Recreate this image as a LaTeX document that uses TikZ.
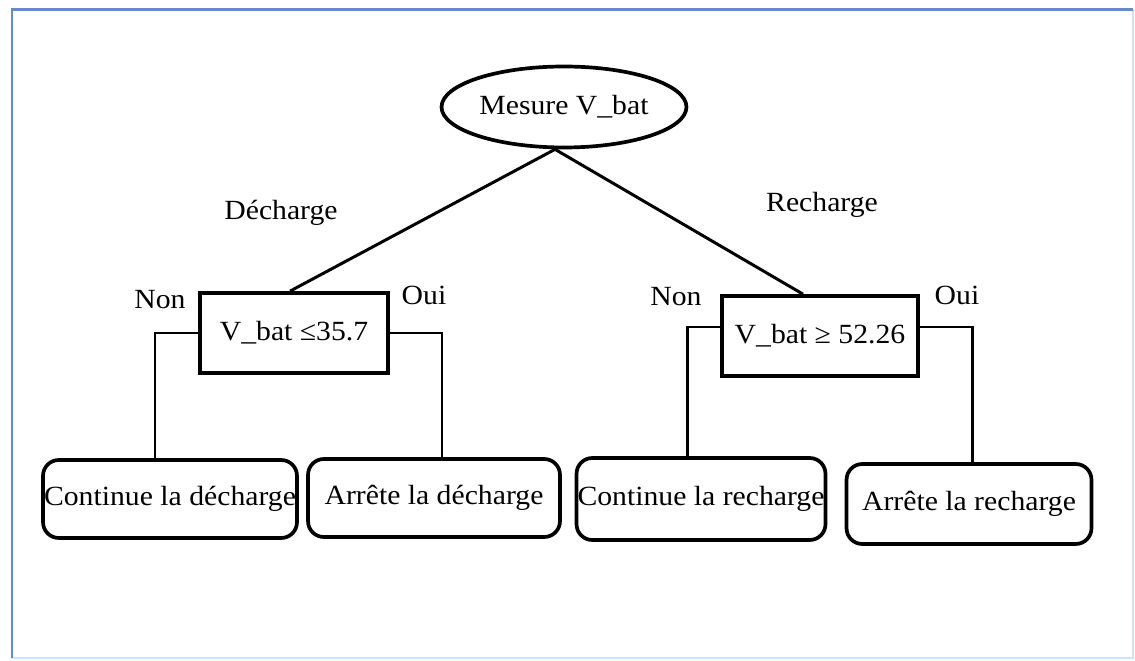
\documentclass[tikz,border=0pt]{standalone}
\usepackage{fontspec}
\setmainfont[FakeStretch=1.07]{Liberation Serif}
\usetikzlibrary{shapes.geometric}

\definecolor{framebl}{RGB}{98,140,202}
\definecolor{framelt}{RGB}{205,228,246}

\begin{document}
\begin{tikzpicture}[x=0.02cm,y=-0.02cm,line width=1.7pt,
    txt/.style={font=\fontsize{15.8}{18}\selectfont},
    main node/.style={txt,draw,line width=2.1pt,inner sep=0pt},
    test node/.style={main node,rectangle,minimum height=1.6cm},
    end node/.style={main node,rectangle,rounded corners=9pt,minimum height=1.56cm}]
    \useasboundingbox (0,0) rectangle (1135,661);
    % cadre
    \draw[framelt,line width=0.8pt] (1133,10) -- (1133,658) -- (12,658);
    \draw[framebl,line width=1.7pt] (12,658) -- (12,10) -- (1133,10);

    \node[main node,ellipse,minimum width=4.9cm,minimum height=1.62cm] (0) at (564,107) {Mesure V\_bat};
    \node[test node,minimum width=3.76cm] (1) at (294,333) {V\_bat ≤35.7};
    \node[test node,minimum width=3.92cm] (2) at (820,336) {V\_bat ≥ 52.26};

    \node[end node,minimum width=5.08cm] (3) at (170,499) {Continue la décharge};
    \node[end node,minimum width=5.04cm] (4) at (434,498) {Arrête la décharge};
    \node[end node,minimum width=4.98cm,minimum height=1.64cm] (5) at (701,499) {Continue la recharge};
    \node[end node,minimum width=4.9cm,minimum height=1.6cm] (6) at (969,504) {Arrête la recharge};

    \node[txt] at (281,213) {Décharge};
    \node[txt] at (822,205) {Recharge};
    \node[txt] at (160,300) {Non};
    \node[txt] at (424,295) {Oui};
    \node[txt] at (676,297) {Non};
    \node[txt] at (957,295) {Oui};

    \path
        ([xshift=-0.18cm]0.south) edge ([xshift=-0.08cm]1.north)
        ([xshift=-0.18cm]0.south) edge ([xshift=-0.34cm]2.north)
        ;
    \draw (1.west) -| ([xshift=-0.3cm]3.north);
    \draw (1.east) -| ([xshift=0.16cm]4.north);
    \draw ([yshift=0.18cm]2.west) -| ([xshift=-0.28cm]5.north);
    \draw ([yshift=0.18cm]2.east) -| ([xshift=0.06cm]6.north);
\end{tikzpicture}
\end{document}
